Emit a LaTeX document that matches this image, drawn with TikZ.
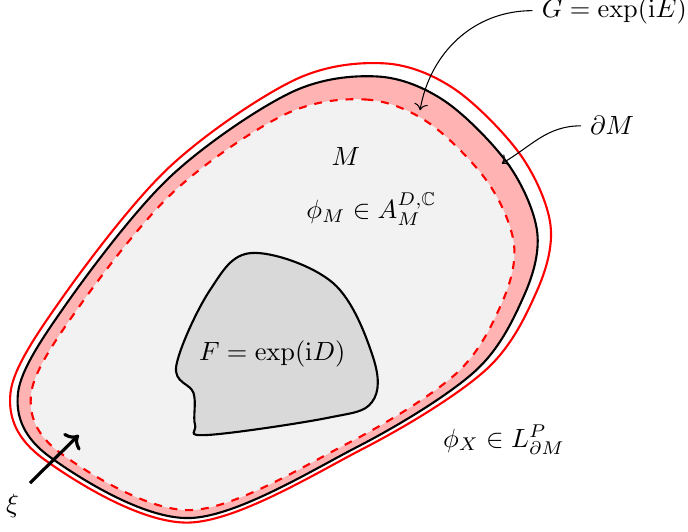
\documentclass[tikz,border=0pt]{standalone}
\usepackage{amssymb}
\usetikzlibrary{arrows.meta}
\definecolor{collarpink}{HTML}{FFB3B3}
\definecolor{bulkgray}{HTML}{F2F2F2}
\definecolor{defectgray}{HTML}{D9D9D9}
\tikzset{
  edgeline/.style={draw=black,line width=.8pt},
  outerline/.style={draw=red,line width=.8pt},
  innerline/.style={draw=red,dashed,line width=.8pt},
  pointer/.style={->,line width=.4pt},
  flow/.style={->,line width=1.2pt}}
\newcommand\boundarycurve[1]{\path[#1] plot[smooth cycle,tension=.55] coordinates {
  (1.133,4.16) (2.3,4.38) (3.2,4.05) (4.05,3.2) (4.43,2.3) (4.25,1.45) (3.6,0.45)
  (2.027,-0.56) (-0.2,-1.507) (-2.067,-0.693) (-2.493,0.16) (-1.84,1.36)
  (-0.467,3.04)};}
\begin{document}
\begin{tikzpicture}
\useasboundingbox (0,0) rectangle (9.173,7.08);
\begin{scope}[shift={(2.733,1.68)}]
\boundarycurve{fill=collarpink}
\boundarycurve{fill=bulkgray,innerline,scale=.93}
\boundarycurve{edgeline}
\boundarycurve{outerline,scale=1.04}
\end{scope}
\draw[edgeline,fill=defectgray] plot[smooth cycle,tension=.6] coordinates {
  (3.36,3.707) (4.44,3.307) (4.973,2.32) (4.96,1.72) (4.36,1.507) (2.76,1.28)
  (2.6,1.42) (2.58,1.84) (2.35,2.2) (2.8,3.213)};
\node[anchor=base] (bulk) at (4.61,4.87) {$M$};
\node[anchor=base] (bulkfield) at (4.95,4.17) {$\phi_M\in A_M^{D,\mathbb C}$};
\node[anchor=base] (defect) at (3.63,2.27) {$F=\exp(\mathrm iD)$};
\node[anchor=base] (bdryfield) at (6.72,1.12) {$\phi_X\in L_{\partial M}^P$};
\node[anchor=base] (bdry) at (8.16,5.28) {$\partial M$};
\node[anchor=base] (gauge) at (8.19,6.85) {$G=\exp(\mathrm iE)$};
\node[anchor=base] (xi) at (0.167,0.245) {$\xi$};
\coordinate (gaugetip) at (5.6,5.61);
\coordinate (bdrytip) at (6.69,4.9);
\coordinate (xistart) at (0.4,0.64);
\coordinate (xiend) at (1.05,1.28);
\draw[pointer] (gauge.west) to[out=180,in=80] (gaugetip);
\draw[pointer] (bdry.west) to[out=180,in=30] (bdrytip);
\draw[flow] (xistart) -- (xiend);
\end{tikzpicture}
\end{document}
